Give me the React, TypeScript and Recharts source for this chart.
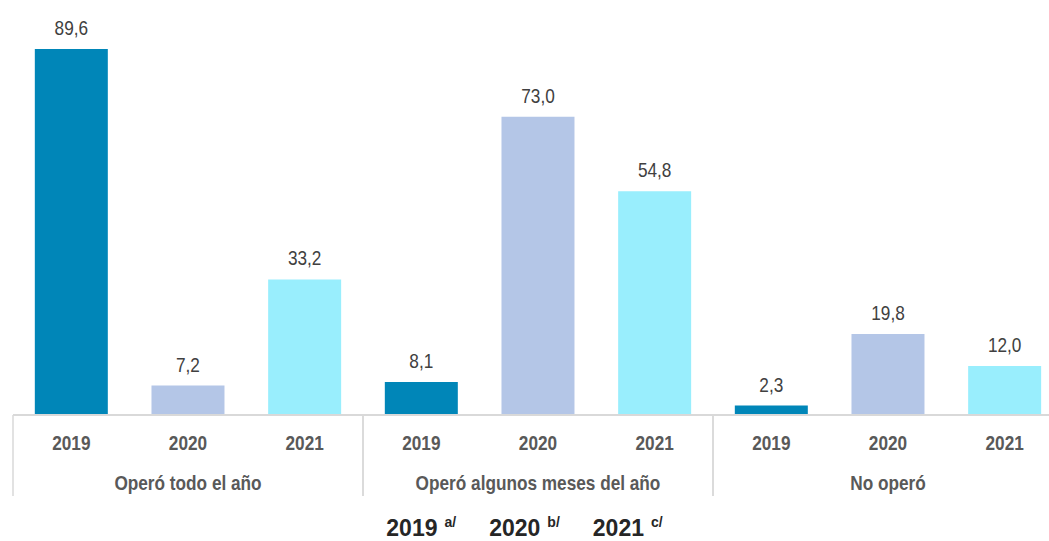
import { BarChart, Bar, XAxis, YAxis, Cell, LabelList, Legend } from 'recharts'

const groups = ['Operó todo el año', 'Operó algunos meses del año', 'No operó']
const years = ['2019', '2020', '2021']
const notes = ['a/', 'b/', 'c/']
const todoElAno = [89.6, 7.2, 33.2]
const algunosMeses = [8.1, 73.0, 54.8]
const noOpero = [2.3, 19.8, 12.0]
const yearColors = ['#0086b8', '#b4c6e7', '#99eefd']

const series = [todoElAno, algunosMeses, noOpero]
const data = groups.flatMap((g, gi) =>
  years.map((y, yi) => ({ group: g, year: y, yi, value: series[gi][yi] })))

// no Arial Narrow here: squeeze Liberation Sans instead
const sans = '"Liberation Sans", Arial, sans-serif'
const SQUEEZE = 0.82
const fmt = (v: number) => v.toFixed(1).replace('.', ',')

const NarrowText = ({ x, y, bold, fill, children }: any) => (
  <text transform={`translate(${x},${y}) scale(${SQUEEZE},1)`} textAnchor="middle" fill={fill}
    style={{ fontFamily: sans, fontSize: 21, fontWeight: bold ? 700 : 400 }}>
    {children}
  </text>
)

// year under each bar, group name under the middle year, separators between groups
const YearGroupTick = ({ x, y, payload, index }: any) => {
  const half = payload.offset ?? 0
  const pos = index % years.length
  const gi = Math.floor(index / years.length)
  const left = x - half
  const right = x + half
  return (
    <g>
      {pos === 0 && <line x1={left} x2={left} y1={y} y2={y + 81} stroke="#d9d9d9" strokeWidth={1.5} />}
      {pos === years.length - 1 && <line x1={right} x2={right} y1={y} y2={y + 81} stroke="#d9d9d9" strokeWidth={1.5} />}
      <NarrowText x={x} y={y + 35} bold fill="#595959">{payload.value}</NarrowText>
      {pos === 1 && <NarrowText x={x} y={y + 75} bold fill="#595959">{groups[gi]}</NarrowText>}
    </g>
  )
}

const ValueLabel = ({ x, y, width, value }: any) => (
  <NarrowText x={x + width / 2} y={y - 14} fill="#404040">{fmt(Number(value))}</NarrowText>
)

const YearLegend = () => (
  <div style={{ position: 'relative', width: 1049, height: 46 }}>
    <div style={{
      position: 'absolute', top: 22, left: 0, width: 1049, display: 'flex', justifyContent: 'center',
      gap: 33, lineHeight: '22px', fontFamily: sans,
      fontSize: 23, fontWeight: 700, color: '#262626',
    }}>
      {years.map((y, i) => (
        <span key={y}>
          {y}
          <span style={{ fontSize: 14, position: 'relative', top: -9, marginLeft: 7 }}>{notes[i]}</span>
        </span>
      ))}
    </div>
  </div>
)

export default function App() {
  return (
    <div style={{ position: 'fixed', left: 0, top: 0, width: 1049, height: 541, overflow: 'hidden', background: '#fff' }}>
      <BarChart width={1080} height={541} data={data} barCategoryGap="18.7%"
        margin={{ top: 6.5, right: 17, left: 13, bottom: 0 }}>
        <XAxis dataKey="year" interval={0} tickLine={false} tickSize={0} tickMargin={0}
          height={80} axisLine={{ stroke: '#d9d9d9', strokeWidth: 2 }} tick={<YearGroupTick />} />
        <YAxis hide domain={[0, 100]} />
        <Legend verticalAlign="bottom" wrapperStyle={{ left: 0, height: 46 }} content={<YearLegend />} />
        <Bar dataKey="value" isAnimationActive={false}>
          {data.map((d, i) => <Cell key={i} fill={yearColors[d.yi]} />)}
          <LabelList dataKey="value" content={<ValueLabel />} />
        </Bar>
      </BarChart>
    </div>
  )
}
